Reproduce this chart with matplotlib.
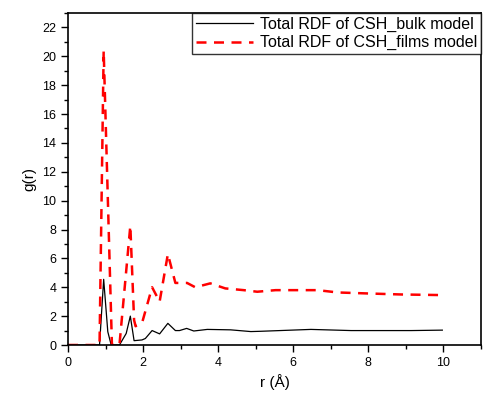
import matplotlib
matplotlib.use('Agg')
import matplotlib.pyplot as plt
from matplotlib.ticker import MultipleLocator

plt.rcParams['font.family'] = ['Liberation Sans', 'DejaVu Sans']

# RDF values
r_bulk = [0.0, 0.84, 0.95, 1.06, 1.15, 1.37, 1.55, 1.66, 1.76, 1.97, 2.06, 2.24, 2.44,
          2.66, 2.86, 2.97, 3.16, 3.35, 3.71, 4.33, 4.87, 5.13, 6.47, 7.54, 9.14, 9.97]
g_bulk = [0.0, 0.0, 4.55, 0.92, 0.0, 0.0, 0.8, 2.0, 0.3, 0.35, 0.45, 1.0, 0.77,
          1.5, 1.0, 1.0, 1.15, 0.97, 1.08, 1.05, 0.93, 0.95, 1.08, 1.0, 1.0, 1.03]

r_films = [0.0, 0.84, 0.95, 1.17, 1.37, 1.66, 1.76, 1.8, 1.98, 2.24, 2.44, 2.66, 2.86,
           3.17, 3.39, 3.79, 4.19, 4.68, 5.04, 5.53, 6.65, 7.18, 7.99, 8.88, 9.9]
g_films = [0.0, 0.0, 20.4, 0.0, 0.0, 8.26, 1.73, 1.3, 1.6, 4.0, 3.0, 6.3, 4.3,
           4.3, 4.0, 4.27, 3.92, 3.8, 3.69, 3.8, 3.8, 3.64, 3.57, 3.5, 3.46]

fig = plt.figure(figsize=(4.84, 4.0), dpi=100)
ax = fig.add_axes([0.1405, 0.1375, 0.8533, 0.83])

ax.plot(r_bulk, g_bulk, color='black', lw=0.9, label='Total RDF of CSH_bulk model')
ax.plot(r_films, g_films, color='red', lw=1.8, ls=(0, (4, 3)), label='Total RDF of CSH_films model')

ax.set_xlim(0, 11)
ax.set_ylim(0, 23)
ax.xaxis.set_major_locator(MultipleLocator(2))
ax.xaxis.set_minor_locator(MultipleLocator(1))
ax.yaxis.set_major_locator(MultipleLocator(2))
ax.yaxis.set_minor_locator(MultipleLocator(1))
ax.tick_params(which='major', direction='out', length=5, width=1, labelsize=9)
ax.tick_params(which='minor', direction='out', length=3, width=1)
for s in ax.spines.values():
    s.set_linewidth(1.2)

ax.set_xlabel('r (Å)', fontsize=11)
ax.set_ylabel('g(r)', fontsize=11)

leg = ax.legend(loc='upper right', fontsize=11.5, frameon=True, fancybox=False,
                borderaxespad=0, handlelength=3.6, borderpad=0.25, labelspacing=0.2,
                handletextpad=0.4)
leg.get_frame().set_edgecolor('black')
leg.get_frame().set_linewidth(1.0)

fig.savefig('out.png', dpi=100)
